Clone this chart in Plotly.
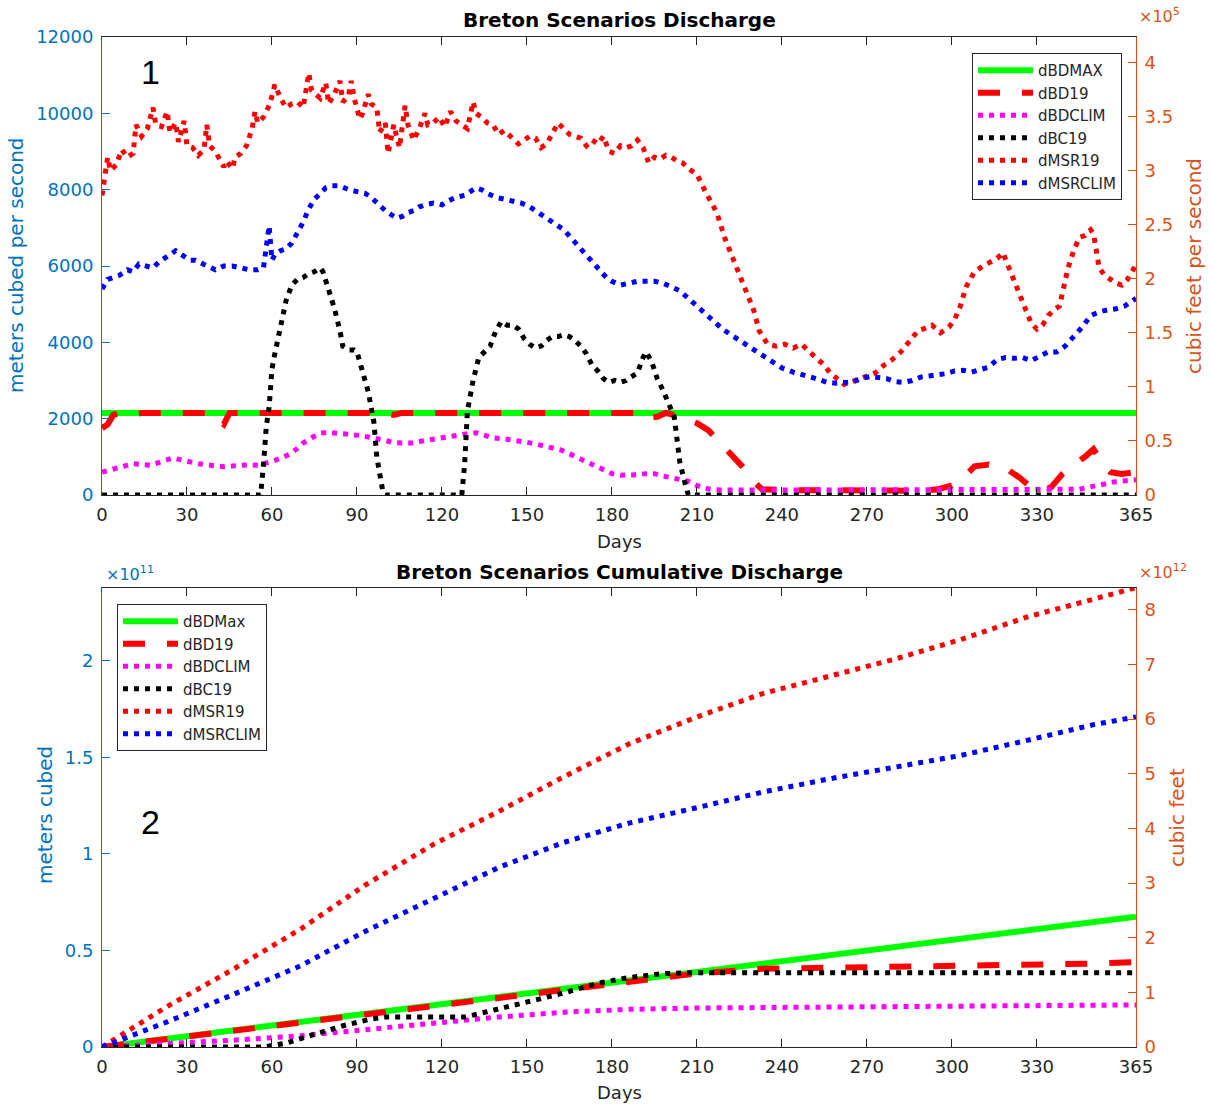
import plotly.graph_objects as go

# ---------------- data: daily discharge (m^3/s) ----------------
msr19_days = [0, 1, 2, 3, 5, 7, 9, 11, 12, 14, 16, 18, 19, 21, 23, 24, 26, 27, 29, 30, 32, 34, 36, 37, 38, 40,
              41, 43, 44, 46, 47, 49, 51, 53, 54, 55, 57, 59, 60, 61, 63, 65, 67, 69, 71, 72, 73, 74, 76, 77,
              79, 80, 82, 84, 85, 87, 88, 89, 91, 92, 94, 95, 97, 98, 100, 101, 103, 104, 105, 107, 108, 110,
              112, 114, 115, 117, 119, 121, 123, 125, 127, 129, 131, 132, 134, 136, 138, 140, 142, 145, 147,
              149, 151, 153, 155, 157, 159, 161, 163, 165, 167, 169, 171, 173, 175, 177, 179, 181, 183, 185,
              187, 189, 191, 193, 195, 197, 199, 201, 203, 205, 207, 210, 213, 217, 220, 224, 227, 230, 232,
              235, 238, 241, 244, 247, 249, 252, 255, 257, 260, 262, 264, 266, 268, 271, 273, 276, 279, 282,
              285, 288, 290, 293, 296, 299, 301, 303, 305, 308, 311, 314, 316, 318, 321, 323, 325, 328, 330,
              332, 334, 336, 338, 341, 343, 345, 347, 349, 350, 352, 354, 356, 358, 360, 362, 364, 365]
msr19_q = [7850, 8300, 8850, 8500, 8650, 9050, 8850, 8950, 9700, 9400, 9600, 10150, 9700, 9650, 10050, 9500,
           9750, 9250, 9800, 9150, 9100, 8900, 9050, 9700, 9150, 9000, 8850, 8600, 8750, 8550, 8850, 8950,
           9150, 9600, 10050, 9750, 9900, 10200, 10450, 10750, 10400, 10150, 10250, 10300, 10150, 10700,
           11050, 10600, 10450, 10400, 10800, 10250, 10500, 10850, 10300, 10450, 10850, 10400, 9850, 10000,
           10500, 10250, 10150, 9500, 9750, 8950, 9700, 9350, 9100, 10200, 9700, 9300, 9600, 10000, 9700,
           9750, 9900, 9650, 10050, 9800, 9700, 9600, 10300, 10000, 9900, 9750, 9700, 9450, 9550, 9350, 9200,
           9300, 9400, 9350, 9100, 9200, 9500, 9750, 9600, 9450, 9400, 9350, 9150, 9300, 9200, 9400, 9000,
           8950, 9150, 9100, 9150, 9300, 9100, 8700, 8850, 8800, 8900, 8850, 8750, 8700, 8550, 8400, 7950,
           7400, 6700, 5950, 5450, 4850, 4300, 3950, 3900, 3950, 3850, 3950, 3800, 3600, 3400, 3200, 3000,
           2900, 2950, 3000, 3050, 3150, 3200, 3400, 3550, 3750, 4050, 4300, 4350, 4450, 4250, 4400, 4600,
           4950, 5450, 5850, 6000, 6100, 6200, 6350, 5800, 5450, 5100, 4500, 4350, 4450, 4700, 4850, 4950,
           5950, 6400, 6750, 6800, 6950, 6850, 5950, 5750, 5650, 5550, 5500, 5650, 5900, 6050]

msrclim_days = [0, 2, 4, 6, 9, 11, 13, 16, 18, 20, 23, 26, 28, 31, 33, 36, 38, 40, 43, 46, 49, 52, 55, 57, 58,
                59, 60, 61, 63, 65, 67, 69, 71, 73, 75, 77, 79, 81, 84, 87, 90, 93, 95, 97, 100, 102, 104, 106,
                108, 110, 112, 114, 117, 120, 122, 125, 128, 130, 132, 134, 136, 139, 142, 145, 148, 151, 154,
                157, 160, 163, 166, 169, 172, 175, 178, 180, 183, 186, 189, 192, 195, 198, 201, 204, 207, 210,
                213, 216, 219, 222, 225, 228, 231, 234, 237, 240, 244, 248, 252, 256, 259, 262, 265, 268, 271,
                274, 277, 280, 283, 286, 289, 292, 295, 298, 301, 304, 307, 310, 313, 316, 319, 322, 325, 328,
                331, 334, 337, 340, 343, 346, 349, 352, 355, 358, 361, 364, 365]
msrclim_q = [5400, 5650, 5700, 5750, 5900, 5850, 6050, 6000, 5950, 6100, 6250, 6400, 6300, 6150, 6150, 6050,
             6000, 5900, 6000, 6000, 5950, 5900, 5900, 5950, 6500, 7050, 6150, 6300, 6400, 6450, 6600, 6850,
             7150, 7500, 7750, 7900, 8050, 8100, 8100, 8000, 7950, 7900, 7800, 7650, 7450, 7350, 7250, 7300,
             7400, 7450, 7550, 7600, 7650, 7600, 7700, 7800, 7850, 7950, 8050, 8000, 7900, 7800, 7750, 7700,
             7650, 7550, 7400, 7250, 7100, 6950, 6700, 6450, 6200, 5950, 5700, 5600, 5500, 5550, 5600, 5600,
             5600, 5550, 5450, 5350, 5150, 4950, 4750, 4550, 4350, 4200, 4050, 3900, 3750, 3600, 3450, 3330,
             3220, 3150, 3050, 2950, 2930, 2950, 2960, 3050, 3100, 3080, 3050, 2970, 2950, 3000, 3090, 3120,
             3150, 3180, 3250, 3270, 3220, 3280, 3350, 3550, 3600, 3580, 3600, 3520, 3650, 3750, 3750, 3900,
             4150, 4400, 4700, 4800, 4850, 4880, 4950, 5100, 5150]

bc19_days = [0, 56, 57, 58, 59, 60, 61, 63, 65, 67, 69, 71, 73, 75, 77, 78, 80, 82, 84, 85, 87, 89, 90, 92, 94,
             96, 97, 99, 100, 127, 128, 129, 131, 133, 135, 137, 139, 141, 143, 145, 147, 149, 151, 153, 155,
             157, 159, 161, 163, 165, 167, 169, 171, 173, 175, 177, 179, 181, 183, 185, 187, 189, 191, 192,
             194, 196, 198, 200, 202, 203, 204, 206, 207, 365]
bc19_q = [0, 0, 800, 1800, 2300, 3300, 3700, 4350, 5100, 5500, 5650, 5700, 5800, 5850, 5950, 5850, 5400, 4900,
          4300, 3900, 3800, 3800, 3750, 3200, 2700, 1900, 1000, 150, 0, 0, 800, 2200, 3000, 3600, 3750, 3900,
          4300, 4550, 4450, 4450, 4350, 4100, 3950, 3850, 3900, 4050, 4150, 4150, 4200, 4150, 4050, 3900, 3700,
          3400, 3250, 3050, 2950, 3000, 2950, 3000, 3100, 3200, 3600, 3750, 3500, 3050, 2750, 2400, 2050, 1450,
          850, 250, 0, 0]

bdclim_days = [0, 3, 5, 8, 11, 14, 17, 20, 23, 25, 28, 31, 34, 37, 40, 43, 46, 49, 52, 55, 58, 60, 63, 66, 69,
               71, 74, 77, 80, 84, 88, 91, 94, 97, 100, 103, 106, 109, 112, 115, 118, 121, 124, 127, 130, 132,
               135, 138, 142, 146, 150, 154, 158, 162, 165, 168, 171, 174, 177, 180, 183, 186, 189, 192, 195,
               198, 201, 204, 207, 210, 213, 216, 220, 250, 280, 310, 340, 345, 348, 351, 354, 357, 360, 363, 365]
bdclim_q = [600, 650, 700, 760, 820, 790, 780, 850, 940, 970, 920, 860, 820, 790, 760, 740, 760, 780, 790, 780,
            830, 880, 960, 1060, 1220, 1360, 1500, 1620, 1640, 1620, 1590, 1560, 1520, 1490, 1430, 1370, 1350,
            1360, 1400, 1440, 1470, 1500, 1540, 1580, 1620, 1630, 1560, 1500, 1470, 1440, 1380, 1320, 1250, 1180,
            1080, 970, 860, 760, 640, 560, 520, 520, 530, 560, 560, 500, 460, 430, 360, 250, 170, 140, 130, 130,
            130, 130, 130, 150, 200, 230, 290, 340, 370, 390, 400]

bd19_days = [0, 2, 4, 6, 10, 14, 38, 41, 43, 45, 100, 103, 106, 188, 191, 196, 199, 204, 207, 210, 214, 218,
             222, 226, 230, 233, 240, 250, 260, 270, 280, 290, 295, 300, 304, 308, 313, 316, 320, 324, 328, 332,
             335, 339, 343, 347, 350, 353, 356, 360, 365]
bd19_q = [1750, 1850, 2100, 2150, 2100, 2150, 2150, 1950, 1850, 2150, 2150, 2100, 2150, 2150, 2000, 2050, 2150,
          2050, 1950, 1880, 1700, 1400, 1100, 750, 350, 150, 130, 130, 130, 120, 120, 110, 150, 250, 450, 750,
          800, 700, 650, 450, 200, 150, 200, 550, 800, 1000, 1200, 850, 600, 550, 600]

bdmax_days = [0, 365]
bdmax_q = [2150, 2150]

# ---------------- data: cumulative discharge (x 1e11 m^3) ----------------
cum_days = [0, 23, 46, 70, 93, 117, 140, 163, 186, 210, 233, 257, 280, 303, 327, 350, 365]
cum_msr19 = [0, 0.21, 0.40, 0.61, 0.84, 1.05, 1.22, 1.40, 1.57, 1.71, 1.83, 1.92, 2.01, 2.11, 2.23, 2.32, 2.38]
cum_msrclim = [0, 0.13, 0.27, 0.42, 0.60, 0.77, 0.93, 1.06, 1.16, 1.24, 1.32, 1.39, 1.45, 1.51, 1.59, 1.67, 1.71]
cum_bdmax = [0, 0.0425, 0.085, 0.129, 0.172, 0.216, 0.259, 0.301, 0.344, 0.388, 0.431, 0.475, 0.518, 0.560,
             0.605, 0.647, 0.675]
cum_bd19 = [0, 0.042, 0.084, 0.128, 0.170, 0.214, 0.256, 0.298, 0.340, 0.381, 0.405, 0.41, 0.412, 0.418, 0.425,
            0.432, 0.44]
cum_bdclim = [0, 0.016, 0.035, 0.058, 0.09, 0.125, 0.155, 0.18, 0.195, 0.202, 0.205, 0.207, 0.209, 0.211, 0.213,
              0.216, 0.218]
cum_bc19_days = [0, 57, 65, 75, 85, 95, 100, 128, 140, 152, 163, 175, 186, 198, 207, 365]
cum_bc19 = [0, 0, 0.02, 0.065, 0.11, 0.145, 0.155, 0.155, 0.195, 0.24, 0.28, 0.33, 0.36, 0.38, 0.385, 0.385]

names_top = ["dBDMAX", "dBD19", "dBDCLIM", "dBC19", "dMSR19", "dMSRCLIM"]
names_bot = ["dBDMax", "dBD19", "dBDCLIM", "dBC19", "dMSR19", "dMSRCLIM"]
x_ticks = [0, 30, 60, 90, 120, 150, 180, 210, 240, 270, 300, 330, 365]
CFS = 35.3147

# ---------------- styles ----------------
BLUE = "#0072BD"
ORANGE = "#D95319"
TXT = "#262626"
FONT = "DejaVu Sans"
W, H = 1211, 1108

styles = [
    dict(color="#00FF00", width=6, dash="solid"),
    dict(color="#FF0000", width=6, dash="22px,22px"),
    dict(color="#FF00FF", width=5, dash="5px,6px"),
    dict(color="#000000", width=5, dash="5px,6px"),
    dict(color="#FF0000", width=5, dash="5px,6px"),
    dict(color="#0000FF", width=5, dash="5px,6px"),
]

fig = go.Figure()

top_series = [(bdmax_days, bdmax_q), (bd19_days, bd19_q), (bdclim_days, bdclim_q),
              (bc19_days, bc19_q), (msr19_days, msr19_q), (msrclim_days, msrclim_q)]
for (xs, ys), nm, st in zip(top_series, names_top, styles):
    fig.add_trace(go.Scatter(x=xs, y=ys, name=nm, mode="lines", line=st,
                             xaxis="x", yaxis="y", legend="legend"))

bot_series = [(cum_days, cum_bdmax), (cum_days, cum_bd19), (cum_days, cum_bdclim),
              (cum_bc19_days, cum_bc19), (cum_days, cum_msr19), (cum_days, cum_msrclim)]
for (xs, ys), nm, st in zip(bot_series, names_bot, styles):
    fig.add_trace(go.Scatter(x=xs, y=ys, name=nm, mode="lines", line=st,
                             xaxis="x2", yaxis="y3", legend="legend2"))

# same series expressed in cubic feet, carried by the right-hand axes (not drawn visibly)
fig.add_trace(go.Scatter(x=msr19_days, y=[v * CFS / 1e5 for v in msr19_q], mode="lines",
                         line=dict(width=0, color="rgba(0,0,0,0)"), opacity=0, showlegend=False,
                         hoverinfo="skip", xaxis="x", yaxis="y2"))
fig.add_trace(go.Scatter(x=cum_days, y=[v * CFS / 10 for v in cum_msr19], mode="lines",
                         line=dict(width=0, color="rgba(0,0,0,0)"), opacity=0, showlegend=False,
                         hoverinfo="skip", xaxis="x2", yaxis="y4"))


def px_x(p):
    return p / W


def px_y(p):
    return 1 - p / H


xdom = [px_x(102), px_x(1136)]
top_dom = [px_y(495), px_y(37)]
bot_dom = [px_y(1047), px_y(588)]

TICK = 18
xcommon = dict(range=[0, 365], tickvals=x_ticks, ticktext=[str(v) for v in x_ticks],
               showline=True, linecolor=TXT, linewidth=1, mirror="ticks", ticks="inside",
               ticklen=8, tickcolor=TXT, tickfont=dict(family=FONT, size=TICK, color=TXT),
               showgrid=False, zeroline=False, domain=xdom, ticklabelstandoff=3, automargin=False)


def yax(color, **kw):
    d = dict(showline=True, linecolor=color, linewidth=1, ticks="inside", ticklen=8, tickcolor=color,
             tickfont=dict(family=FONT, size=TICK, color=color), showgrid=False, zeroline=False,
             ticklabelstandoff=4, automargin=False)
    d.update(kw)
    return d


top_max = 12000
bot_max = 2.378

fig.update_layout(
    template="none",
    width=W, height=H, autosize=False,
    margin=dict(l=0, r=0, t=0, b=0, pad=0),
    plot_bgcolor="white", paper_bgcolor="white",
    xaxis=dict(anchor="y", **xcommon),
    xaxis2=dict(anchor="y3", **xcommon),
    yaxis=yax(BLUE, domain=top_dom, anchor="x", range=[0, top_max],
              tickvals=[0, 2000, 4000, 6000, 8000, 10000, 12000],
              ticktext=["0", "2000", "4000", "6000", "8000", "10000", "12000"]),
    yaxis2=yax(ORANGE, overlaying="y", side="right", anchor="x", range=[0, top_max * CFS / 1e5],
               tickvals=[0, 0.5, 1, 1.5, 2, 2.5, 3, 3.5, 4],
               ticktext=["0", "0.5", "1", "1.5", "2", "2.5", "3", "3.5", "4"]),
    yaxis3=yax(BLUE, domain=bot_dom, anchor="x2", range=[0, bot_max],
               tickvals=[0, 0.5, 1, 1.5, 2], ticktext=["0", "0.5", "1", "1.5", "2"]),
    yaxis4=yax(ORANGE, overlaying="y3", side="right", anchor="x2", range=[0, bot_max * CFS / 10],
               tickvals=[0, 1, 2, 3, 4, 5, 6, 7, 8], ticktext=[str(v) for v in range(9)]),
    legend=dict(x=px_x(1122), xanchor="right", y=px_y(53), yanchor="top",
                bgcolor="white", bordercolor=TXT, borderwidth=1,
                font=dict(family=FONT, size=15, color=TXT), itemwidth=55,
                tracegroupgap=0),
    legend2=dict(x=px_x(117), xanchor="left", y=px_y(604), yanchor="top",
                 bgcolor="white", bordercolor=TXT, borderwidth=1,
                 font=dict(family=FONT, size=15, color=TXT), itemwidth=55,
                 tracegroupgap=0),
    showlegend=True,
)

ann = []


def text(x, y, s, size, color, angle=0, bold=False, xanchor="center", family=FONT):
    ann.append(dict(x=px_x(x), y=px_y(y), xref="paper", yref="paper", text=("<b>%s</b>" % s) if bold else s,
                    showarrow=False, font=dict(family=family, size=size, color=color),
                    textangle=angle, xanchor=xanchor, yanchor="middle"))


text(619, 20, "Breton Scenarios Discharge", 20, "#000000", bold=True)
text(619, 572, "Breton Scenarios Cumulative Discharge", 20, "#000000", bold=True)
text(620, 541, "Days", 18, TXT)
text(620, 1092, "Days", 18, TXT)
text(16, 265, "meters cubed per second", 20, BLUE, angle=-90)
text(45, 815, "meters cubed", 20, BLUE, angle=-90)
text(1194, 266, "cubic feet per second", 20, ORANGE, angle=-90)
text(1177, 818, "cubic feet", 20, ORANGE, angle=-90)
text(1137, 16, "×10<sup>5</sup>", 16, ORANGE, xanchor="left")
text(104, 573, "×10<sup>11</sup>", 16, BLUE, xanchor="left")
text(1137, 571, "×10<sup>12</sup>", 16, ORANGE, xanchor="left")
text(150, 72, "1", 34, "#000000", family="Liberation Sans")
text(150, 822, "2", 34, "#000000", family="Liberation Sans")
fig.update_layout(annotations=ann)

fig.write_html("out.html", config={"displayModeBar": False},
               post_script="document.body.style.margin='0px';document.body.style.overflow='hidden';")
